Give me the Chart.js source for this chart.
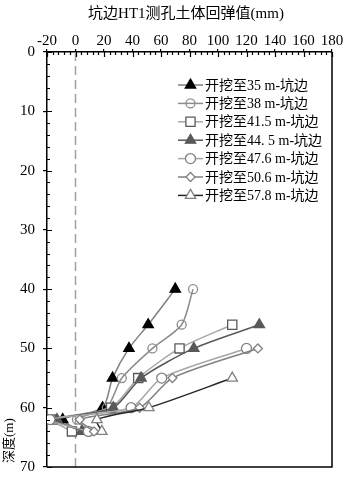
<!DOCTYPE html>
<html>
<head>
<meta charset="utf-8">
<script src="https://cdn.jsdelivr.net/npm/chart.js@4/dist/chart.umd.min.js"></script>
<style>
  html, body { margin: 0; padding: 0; background: #fff; }
  #wrap { width: 343px; height: 478px; }
</style>
</head>
<body>
<div id="wrap"><canvas id="reboundChart" width="343" height="478"></canvas></div>
<script>
// depth (m) and rebound value (mm) for each excavation stage
const seriesLabels = [
  "开挖至35 m-坑边", "开挖至38 m-坑边", "开挖至41.5 m-坑边", "开挖至44. 5 m-坑边",
  "开挖至47.6 m-坑边", "开挖至50.6 m-坑边", "开挖至57.8 m-坑边"
];
const depth35 = [40, 46, 50, 55, 60, 62, 64];
const value35 = [70, 51, 37.5, 26, 19, -9, 4.5];
const depth38 = [40, 46, 50, 55, 60, 62, 64];
const value38 = [82.5, 74.5, 54, 32.5, 22, 1, 10];
const depth415 = [46, 50, 55, 60, 62, 64];
const value415 = [110, 73, 44, 25, -16.5, -2.5];
const depth445 = [46, 50, 55, 60, 62, 64];
const value445 = [129, 83, 46, 26.5, -13, 4.5];
const depth476 = [50, 55, 60, 62, 64];
const value476 = [120, 60.5, 39, -18, 9];
const depth506 = [50, 55, 60, 62, 64];
const value506 = [128, 68, 45, 3, 13];
const depth578 = [55, 60, 62, 64];
const value578 = [110, 51.5, 15, 18.5];

const xTicks = [-20, 0, 20, 40, 60, 80, 100, 120, 140, 160, 180];
const yTicks = [0, 10, 20, 30, 40, 50, 60, 70];
const xTitle = '坑边HT1测孔土体回弹值(mm)';
const yTitle = '深度(m)';

const serif = '"Liberation Serif", "Times New Roman", "Noto Sans CJK SC", serif';

function toPoints(depths, values) {
  return depths.map((d, i) => ({ x: values[i], y: d }));
}

const styles = [
  { line: '#7f7f7f', border: '#000000', fill: '#000000', shape: 'triangle', r: 6 },
  { line: '#8c8c8c', border: '#8c8c8c', fill: 'rgba(0,0,0,0)', shape: 'circle', r: 4.5 },
  { line: '#a6a6a6', border: '#595959', fill: '#ffffff', shape: 'rect', r: 6.5 },
  { line: '#595959', border: '#595959', fill: '#595959', shape: 'triangle', r: 6 },
  { line: '#a6a6a6', border: '#808080', fill: '#ffffff', shape: 'circle', r: 5 },
  { line: '#808080', border: '#808080', fill: '#ffffff', shape: 'rectRot', r: 4.5 },
  { line: '#262626', border: '#808080', fill: '#ffffff', shape: 'triangle', r: 6 }
];

const seriesPoints = [
  toPoints(depth35, value35), toPoints(depth38, value38), toPoints(depth415, value415),
  toPoints(depth445, value445), toPoints(depth476, value476), toPoints(depth506, value506),
  toPoints(depth578, value578)
];

const datasets = seriesPoints.map((pts, i) => ({
  label: seriesLabels[i],
  data: pts,
  order: seriesPoints.length - i, // later series on top, like the source
  showLine: true,
  tension: 0.25,
  borderColor: styles[i].line,
  borderWidth: 1.5,
  pointStyle: styles[i].shape,
  pointRadius: styles[i].r,
  pointHoverRadius: styles[i].r,
  pointBorderColor: styles[i].border,
  pointBackgroundColor: styles[i].fill,
  pointBorderWidth: 1.3
}));

// zero line, minor ticks, frame, axis titles
const framePlugin = {
  id: 'frame',
  beforeDatasetsDraw(chart) {
    const { ctx, chartArea: a, scales } = chart;
    const x0 = scales.x.getPixelForValue(0);
    ctx.save();
    ctx.strokeStyle = '#a0a0a0';
    ctx.lineWidth = 1.5;
    ctx.setLineDash([9, 5]);
    ctx.beginPath();
    ctx.moveTo(x0, a.top);
    ctx.lineTo(x0, a.bottom);
    ctx.stroke();
    ctx.restore();
  },
  afterDraw(chart) {
    const { ctx, chartArea: a, scales } = chart;
    ctx.save();
    ctx.strokeStyle = '#000';
    ctx.lineWidth = 1.2;
    ctx.beginPath();
    for (let v = -20; v <= 180; v += 4) {
      const px = Math.round(scales.x.getPixelForValue(v)) + 0.5;
      const len = v % 20 === 0 ? 5 : 3;
      ctx.moveTo(px, a.top);
      ctx.lineTo(px, a.top + len);
    }
    for (let v = 0; v <= 70; v += 2) {
      const py = Math.round(scales.y.getPixelForValue(v)) + 0.5;
      const len = v % 10 === 0 ? 5 : 3;
      ctx.moveTo(a.left, py);
      ctx.lineTo(a.left + len, py);
    }
    ctx.stroke();
    ctx.lineWidth = 1.5;
    ctx.beginPath();
    ctx.moveTo(a.right, a.top);
    ctx.lineTo(a.right, a.bottom);
    ctx.lineTo(a.left, a.bottom);
    ctx.stroke();

    ctx.fillStyle = '#000';
    ctx.font = '15px ' + serif;
    ctx.textBaseline = 'middle';
    ctx.textAlign = 'center';
    ctx.fillText(xTitle, 186, 14);
    ctx.font = '13px ' + serif;
    ctx.translate(10, 463);
    ctx.rotate(-Math.PI / 2);
    ctx.textAlign = 'left';
    ctx.fillText(yTitle, 0, 0);
    ctx.restore();
  }
};

function drawMarker(ctx, ds, x, y) {
  const opts = { pointStyle: ds.pointStyle, radius: ds.pointRadius, rotation: 0, borderWidth: ds.pointBorderWidth };
  ctx.fillStyle = ds.pointBackgroundColor;
  ctx.strokeStyle = ds.pointBorderColor;
  ctx.lineWidth = ds.pointBorderWidth;
  if (Chart.helpers && Chart.helpers.drawPoint) {
    Chart.helpers.drawPoint(ctx, opts, x, y);
  } else {
    ctx.beginPath();
    ctx.arc(x, y, ds.pointRadius, 0, Math.PI * 2);
    ctx.fill();
    ctx.stroke();
  }
}

const insideLegend = {
  id: 'insideLegend',
  afterDraw(chart) {
    const { ctx, chartArea: a } = chart;
    const x1 = a.left + 131;
    const x2 = x1 + 25;
    ctx.save();
    chart.data.datasets.forEach((ds, i) => {
      const y = a.top + 33 + i * 18.4;
      ctx.strokeStyle = ds.borderColor;
      ctx.lineWidth = ds.borderWidth;
      ctx.beginPath();
      ctx.moveTo(x1, y);
      ctx.lineTo(x2, y);
      ctx.stroke();
      drawMarker(ctx, ds, (x1 + x2) / 2, y);
      ctx.fillStyle = '#000';
      ctx.font = '14px ' + serif;
      ctx.textBaseline = 'middle';
      ctx.textAlign = 'left';
      ctx.fillText(ds.label, x2 + 2, y + 1);
    });
    ctx.restore();
  }
};

const ctx = document.getElementById('reboundChart');
new Chart(ctx, {
  type: 'scatter',
  data: { datasets },
  plugins: [framePlugin, insideLegend],
  options: {
    responsive: false,
    animation: false,
    devicePixelRatio: 1,
    layout: { padding: { left: 0, top: 0, right: 11, bottom: 11 } },
    scales: {
      x: {
        type: 'linear',
        position: 'top',
        min: -20,
        max: 180,
        afterBuildTicks: (s) => { s.ticks = xTicks.map(v => ({ value: v })); },
        afterFit: (s) => { s.height = 52; s.paddingLeft = 0; s.paddingRight = 0; },
        grid: { drawOnChartArea: false, drawTicks: true, tickLength: 3, color: '#000', lineWidth: 1.2 },
        border: { color: '#000', width: 1.5 },
        ticks: { color: '#000', font: { family: serif, size: 15, lineHeight: 1 }, padding: 0, maxRotation: 0, autoSkip: false }
      },
      y: {
        type: 'linear',
        reverse: true,
        min: 0,
        max: 70,
        afterBuildTicks: (s) => { s.ticks = yTicks.map(v => ({ value: v })); },
        afterFit: (s) => { s.width = 47; s.paddingTop = 0; s.paddingBottom = 0; },
        grid: { drawOnChartArea: false, drawTicks: true, tickLength: 4, color: '#000', lineWidth: 1.2 },
        border: { color: '#000', width: 1.5 },
        ticks: { color: '#000', font: { family: serif, size: 15 }, padding: 8, autoSkip: false }
      }
    },
    plugins: {
      legend: { display: false },
      tooltip: { enabled: false }
    }
  }
});
</script>
</body>
</html>
